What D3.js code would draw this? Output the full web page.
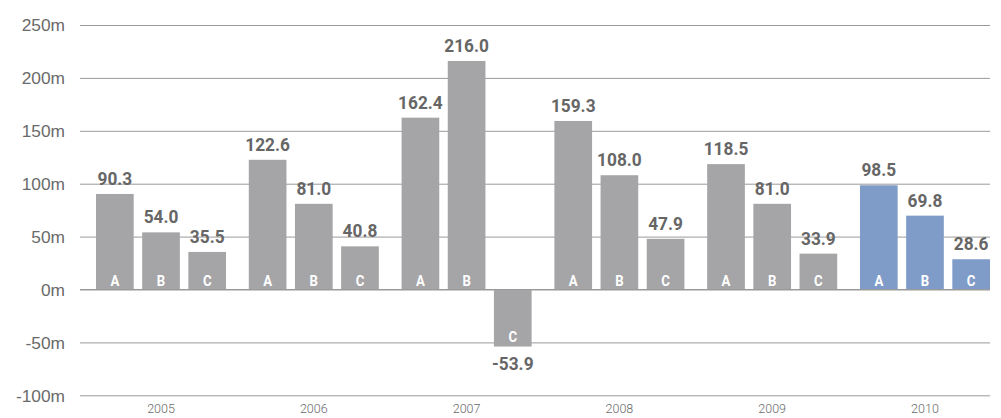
<!DOCTYPE html>
<html><head><meta charset="utf-8">
<script src="https://cdn.jsdelivr.net/npm/d3@7"></script>
<style>
html,body{margin:0;padding:0;background:#fff;}
svg{display:block;font-family:Roboto,"Liberation Sans",sans-serif;}
</style></head>
<body><svg id="c" width="1001" height="418"></svg>
<script>
const years = ["2005","2006","2007","2008","2009","2010"];
const series = ["A","B","C"];
const valuesA = [90.3,122.6,162.4,159.3,118.5,98.5];
const valuesB = [54.0,81.0,216.0,108.0,81.0,69.8];
const valuesC = [35.5,40.8,-53.9,47.9,33.9,28.6];
const yTicks = [-100,-50,0,50,100,150,200,250];
const highlightYear = "2010";

const svg = d3.select("#c");
const y = d3.scaleLinear().domain([-100,250]).range([395.3,25]);
const x0 = d3.scaleBand().domain(years).range([96,990]).paddingInner(0.149).paddingOuter(0);
const x1 = d3.scaleBand().domain(series).range([0,x0.bandwidth()]).paddingInner(0.184).paddingOuter(0);

// grid + y labels
const yAxis = d3.axisLeft(y).tickValues(yTicks).tickSize(-(990-80)).tickFormat(d=>d+"m");
const ga = svg.append("g").attr("transform","translate(80,0)").call(yAxis);
ga.select(".domain").remove();
ga.selectAll(".tick line").attr("stroke","#9a9a9a").attr("stroke-width",1);
ga.selectAll(".tick text").attr("x",0).attr("dy","0.35em").attr("fill","#6a6a6a")
  .attr("font-size",17).attr("font-weight",300).attr("font-family","inherit")
  .attr("transform","translate(-15,0) scale(1.02,1)");

const data = [];
years.forEach((yr,i)=>{
  [valuesA,valuesB,valuesC].forEach((arr,j)=>{
    data.push({year:yr, s:series[j], v:arr[i]});
  });
});

const g = svg.append("g");
const bars = g.selectAll("g.bar").data(data).join("g")
  .attr("transform",d=>`translate(${x0(d.year)+x1(d.s)},0)`);
bars.append("rect")
  .attr("x",0).attr("width",x1.bandwidth())
  .attr("y",d=>y(Math.max(0,d.v)))
  .attr("height",d=>Math.abs(y(d.v)-y(0)))
  .attr("fill",d=>d.year===highlightYear?"#7f9cc9":"#a5a5a8");
svg.append("line").attr("x1",80).attr("x2",990).attr("y1",y(0)).attr("y2",y(0)).attr("stroke","#9a9a9a");

bars.append("text")
  .attr("transform",d=>`translate(${x1.bandwidth()/2},${d.v>=0? y(0)-4 : y(d.v)-4.5}) scale(0.88,1)`)
  .attr("text-anchor","middle").attr("fill","#fff")
  .attr("font-weight","bold").attr("font-size",15)
  .text(d=>d.s);
bars.append("text")
  .attr("transform",d=>`translate(${x1.bandwidth()/2},${d.v>=0? y(d.v)-9 : y(d.v)+23}) scale(0.9,1)`)
  .attr("text-anchor","middle").attr("fill","#666")
  .attr("font-weight","bold").attr("font-size",19.2)
  .text(d=>d.v.toFixed(1));

svg.append("g").selectAll("text").data(years).join("text")
  .attr("x",d=>x0(d)+x0.bandwidth()/2).attr("y",413)
  .attr("text-anchor","middle").attr("fill","#6a6a6a").attr("font-size",12.5).attr("font-weight",300)
  .text(d=>d);
</script></body></html>
